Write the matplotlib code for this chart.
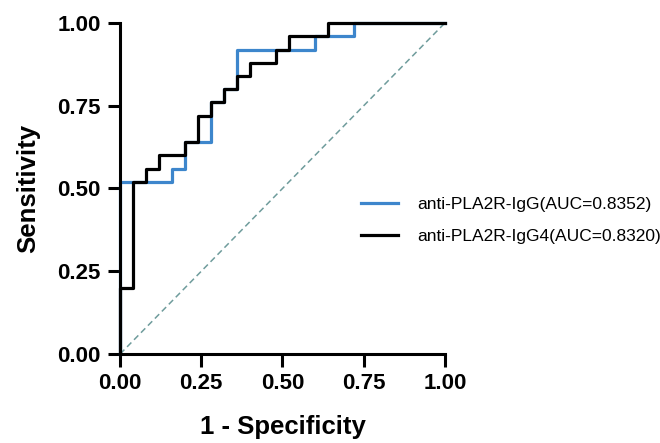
import matplotlib
matplotlib.use("Agg")
import matplotlib.pyplot as plt

# ROC points (1 - specificity, sensitivity)
igg_fpr = [0, 0, 0.16, 0.16, 0.20, 0.20, 0.28, 0.28, 0.32, 0.32, 0.36, 0.36, 0.60, 0.60, 0.72, 0.72, 1.0]
igg_tpr = [0, 0.52, 0.52, 0.56, 0.56, 0.64, 0.64, 0.76, 0.76, 0.80, 0.80, 0.92, 0.92, 0.96, 0.96, 1.0, 1.0]

igg4_fpr = [0, 0, 0.04, 0.04, 0.08, 0.08, 0.12, 0.12, 0.20, 0.20, 0.24, 0.24, 0.28, 0.28, 0.32, 0.32,
            0.36, 0.36, 0.40, 0.40, 0.48, 0.48, 0.52, 0.52, 0.64, 0.64, 1.0]
igg4_tpr = [0, 0.20, 0.20, 0.52, 0.52, 0.56, 0.56, 0.60, 0.60, 0.64, 0.64, 0.72, 0.72, 0.76, 0.76, 0.80,
            0.80, 0.84, 0.84, 0.88, 0.88, 0.92, 0.92, 0.96, 0.96, 1.0, 1.0]

labels = ["anti-PLA2R-IgG(AUC=0.8352)", "anti-PLA2R-IgG4(AUC=0.8320)"]
ticks = [0.0, 0.25, 0.50, 0.75, 1.0]

plt.rcParams['font.family'] = ['Liberation Sans', 'DejaVu Sans']

fig = plt.figure(figsize=(6.6, 4.43), dpi=100)
ax = fig.add_axes([0.182, 0.201, 0.492, 0.747])

ax.plot([0, 1], [0, 1], ls=(0, (4, 2.5)), color='#6f9c9c', lw=1.1, zorder=1)
ax.plot(igg_fpr, igg_tpr, color='#3d86cc', lw=2.3, label=labels[0], zorder=2, clip_on=False)
ax.plot(igg4_fpr, igg4_tpr, color='black', lw=2.3, label=labels[1], zorder=3, clip_on=False)

ax.set_xlim(0, 1)
ax.set_ylim(0, 1)
ax.set_xticks(ticks)
ax.set_yticks(ticks)
ax.set_xticklabels(['%.2f' % t for t in ticks])
ax.set_yticklabels(['%.2f' % t for t in ticks])
for s in ['top', 'right']:
    ax.spines[s].set_visible(False)
for s in ['left', 'bottom']:
    ax.spines[s].set_linewidth(2.2)
ax.tick_params(length=9, width=2.2, labelsize=16, pad=5)
for t in ax.get_xticklabels() + ax.get_yticklabels():
    t.set_fontweight('bold')

ax.set_xlabel('1 - Specificity', fontsize=18.5, fontweight='bold', labelpad=15)
ax.set_ylabel('Sensitivity', fontsize=18.5, fontweight='bold', labelpad=12)

fig.legend(loc='center left', bbox_to_anchor=(0.524, 0.502), frameon=False, fontsize=12.5,
           handlelength=2.1, handletextpad=1.1, labelspacing=1.0)

fig.savefig('out.png', dpi=100)
